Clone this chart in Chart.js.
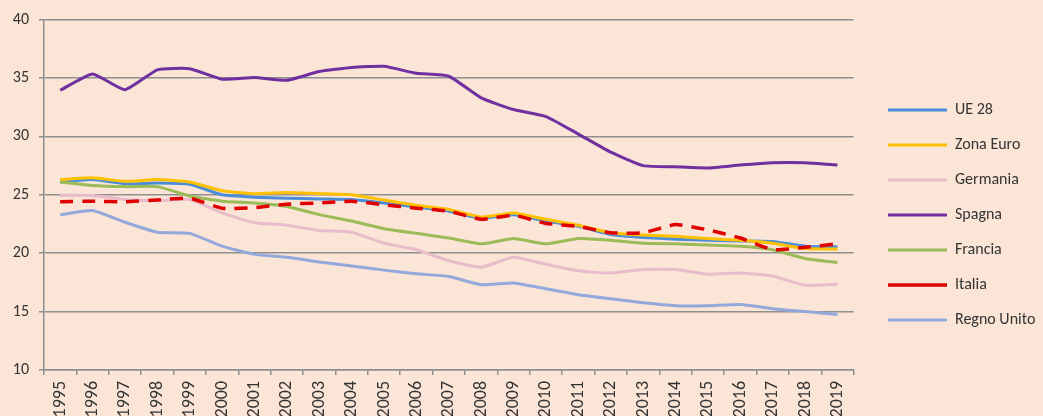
<!DOCTYPE html>
<html>
<head>
<meta charset="utf-8">
<script src="https://cdn.jsdelivr.net/npm/chart.js@4"></script>
<style>
  html, body { margin: 0; padding: 0; background: #FBE5D6; }
  #wrap { width: 1043px; height: 416px; position: relative; }
</style>
</head>
<body>
<div id="wrap"><canvas id="chart"></canvas></div>
<script>
// tassi per paese, 1995-2019
const years = ['1995', '1996', '1997', '1998', '1999', '2000', '2001', '2002', '2003', '2004', '2005', '2006',
    '2007', '2008', '2009', '2010', '2011', '2012', '2013', '2014', '2015', '2016', '2017', '2018', '2019'];

const ue28 = [26.1, 26.3, 25.95, 26.0, 25.9, 25.0, 24.8, 24.7, 24.65, 24.6, 24.3, 23.95, 23.6,
    23.0, 23.3, 22.75, 22.3, 21.6, 21.35, 21.2, 21.1, 21.05, 21.0, 20.6, 20.55];
const zonaEuro = [26.3, 26.45, 26.15, 26.3, 26.1, 25.35, 25.1, 25.2, 25.1, 25.0, 24.55, 24.1, 23.75,
    23.1, 23.45, 22.9, 22.4, 21.75, 21.55, 21.45, 21.25, 21.1, 20.85, 20.4, 20.35];
const germania = [24.95, 24.95, 24.6, 24.5, 24.6, 23.45, 22.6, 22.4, 21.95, 21.8, 20.85, 20.3, 19.35,
    18.8, 19.65, 19.05, 18.5, 18.3, 18.6, 18.6, 18.2, 18.3, 18.05, 17.25, 17.35];
const spagna = [33.95, 35.35, 34.0, 35.7, 35.8, 34.9, 35.05, 34.8, 35.55, 35.9, 36.0, 35.4, 35.15,
    33.3, 32.3, 31.7, 30.2, 28.65, 27.5, 27.4, 27.3, 27.55, 27.75, 27.75, 27.55];
const francia = [26.1, 25.8, 25.7, 25.7, 24.9, 24.45, 24.3, 24.0, 23.3, 22.75, 22.1, 21.7, 21.3,
    20.8, 21.25, 20.8, 21.25, 21.1, 20.85, 20.8, 20.7, 20.6, 20.3, 19.55, 19.2];
const italia = [24.4, 24.45, 24.4, 24.55, 24.7, 23.85, 23.9, 24.2, 24.3, 24.45, 24.15, 23.85, 23.6,
    22.9, 23.25, 22.55, 22.3, 21.75, 21.75, 22.45, 22.0, 21.3, 20.3, 20.5, 20.8];
const regnoUnito = [23.3, 23.65, 22.65, 21.8, 21.7, 20.6, 19.9, 19.65, 19.25, 18.9, 18.55, 18.25, 18.0,
    17.3, 17.45, 16.95, 16.45, 16.1, 15.75, 15.5, 15.5, 15.6, 15.25, 15.0, 14.75];

const seriesNames = ['UE 28', 'Zona Euro', 'Germania', 'Spagna', 'Francia', 'Italia', 'Regno Unito'];
const yTicks = { min: 10, max: 40, step: 5 };

const colors = {
    ue28: '#4A8EDA',
    euro: '#FFC000',
    ger: '#E8BCCB',
    spa: '#7030A0',
    fra: '#9BBB59',
    ita: '#E00000',
    uk: '#93A9DC',
    grid: '#8F8F8F',
    text: '#333333'
};

const fontFamily = 'Carlito, Lato, "Open Sans", sans-serif';

const mkLine = (label, data, color, extra = {}) => ({
    label,
    data,
    borderColor: color,
    backgroundColor: color,
    borderWidth: 3,
    pointRadius: 0,
    tension: 0.15,
    fill: false,
    ...extra
});

const allData = [ue28, zonaEuro, germania, spagna, francia, italia, regnoUnito];
const allColors = [colors.ue28, colors.euro, colors.ger, colors.spa, colors.fra, colors.ita, colors.uk];

const datasets = seriesNames.map((name, i) => {
    const extra = { order: seriesNames.length - i };
    if (name === 'Italia') {
        extra.borderDash = [13, 9];
        extra.borderWidth = 3.5;
    }
    return mkLine(name, allData[i], allColors[i], extra);
});

// moves the legend to where the reference has it
const legendPos = {
    id: 'legendPos',
    afterLayout(chart) {
        const lg = chart.legend;
        if (!lg) return;
        const w = lg.width, h = lg.height;
        lg.left = 869; lg.right = lg.left + w;
        lg.top = 83; lg.bottom = lg.top + h;
    }
};

new Chart(document.getElementById('chart'), {
    type: 'line',
    data: { labels: years, datasets },
    plugins: [legendPos],
    options: {
        responsive: true,
        maintainAspectRatio: false,
        animation: false,
        layout: { padding: { top: 17, right: 13, bottom: 0, left: 0 } },
        plugins: {
            legend: {
                position: 'right',
                align: 'start',
                labels: {
                    usePointStyle: true,
                    pointStyle: 'line',
                    pointStyleWidth: 59,
                    padding: 19,
                    color: colors.text,
                    font: { family: fontFamily, size: 16 },
                    sort: (a, b) => a.datasetIndex - b.datasetIndex
                }
            },
            tooltip: { enabled: false }
        },
        scales: {
            x: {
                offset: true,
                grid: { offset: true, drawOnChartArea: false, drawTicks: true, tickLength: 5, color: colors.grid, lineWidth: 1.5 },
                border: { display: true, color: colors.grid, width: 1.5 },
                ticks: { color: colors.text, font: { family: fontFamily, size: 18 }, minRotation: 90, maxRotation: 90, padding: 6, autoSkip: false },
                afterFit: s => { s.height = 46; }
            },
            y: {
                min: yTicks.min,
                max: yTicks.max,
                grid: { color: colors.grid, lineWidth: 1.5, tickLength: 5 },
                border: { display: true, color: colors.grid, width: 1.5 },
                ticks: { stepSize: yTicks.step, color: colors.text, font: { family: fontFamily, size: 16 }, padding: 10 },
                afterFit: s => { s.width = 44; }
            }
        }
    }
});
</script>
</body>
</html>
